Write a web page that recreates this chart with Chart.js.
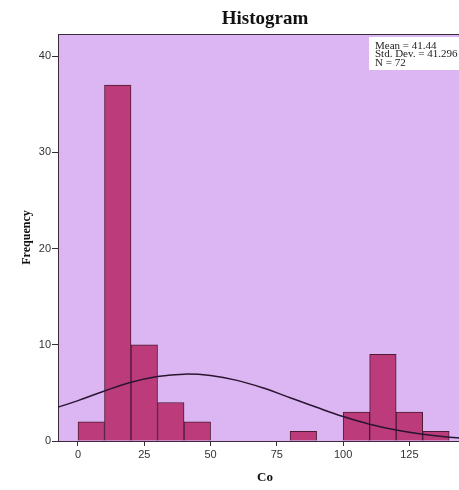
<!DOCTYPE html>
<html lang="en">
<head>
    <meta charset="UTF-8">
    <title>Histogram</title>
    <script src="https://cdn.jsdelivr.net/npm/chart.js"></script>
    <style>
        html, body { margin: 0; padding: 0; overflow: hidden; background: #fff; }
        canvas { display: block; }
    </style>
</head>
<body>
    <canvas id="histChart" width="472" height="490"></canvas>
    <script>
        // Bin midpoints (width 10) and counts
        const binCenters = [5, 15, 25, 35, 45, 85, 105, 115, 125, 135];
        const binCounts  = [2, 37, 10, 4, 2, 1, 3, 9, 3, 1];

        // Fitted normal curve, read at steps along the axis
        const curveX = [-10, 0, 10, 20, 30, 40, 50, 60, 70, 80, 90, 100, 110, 120, 130, 140, 150];
        const curveY = [3.3, 4.2, 5.2, 6.1, 6.7, 6.95, 6.8, 6.3, 5.5, 4.5, 3.5, 2.55, 1.75, 1.14, 0.7, 0.4, 0.22];

        const xTicks = [0, 25, 50, 75, 100, 125];
        const yTicks = [0, 10, 20, 30, 40];

        const statLines = ['Mean = 41.44', 'Std. Dev. = 41.296', 'N = 72'];

        const axisColor = '#3a2a3a';

        // Lavender plot background plus frame, and the stats box on top
        const plotDecor = {
            id: 'plotDecor',
            beforeDatasetsDraw(chart) {
                const {ctx, chartArea: a} = chart;
                ctx.save();
                ctx.fillStyle = '#dcb6f2';
                ctx.fillRect(a.left, a.top, a.right - a.left, a.bottom - a.top);
                ctx.strokeStyle = axisColor;
                ctx.lineWidth = 1;
                ctx.strokeRect(a.left + 0.5, a.top + 0.5, a.right - a.left, a.bottom - a.top);
                ctx.restore();
            },
            afterDraw(chart) {
                const {ctx} = chart;
                ctx.save();
                ctx.fillStyle = '#ffffff';
                ctx.fillRect(369, 37, 110, 33);
                ctx.fillStyle = '#222';
                ctx.font = '11px "Liberation Serif", serif';
                ctx.textBaseline = 'middle';
                statLines.forEach((t, i) => ctx.fillText(t, 375, 46 + i * 8.5));
                ctx.restore();
            }
        };

        const config = {
            data: {
                datasets: [{
                    type: 'line',
                    data: curveX.map((x, i) => ({x: x, y: curveY[i]})),
                    borderColor: '#2a1530',
                    borderWidth: 1.5,
                    pointRadius: 0,
                    tension: 0.4,
                    order: 1
                }, {
                    type: 'bar',
                    data: binCenters.map((x, i) => ({x: x, y: binCounts[i]})),
                    backgroundColor: '#bb3b7b',
                    borderColor: '#4d1a35',
                    borderWidth: 1,
                    barPercentage: 1,
                    categoryPercentage: 1,
                    order: 2
                }]
            },
            options: {
                responsive: false,
                animation: false,
                layout: { padding: 0 },
                plugins: {
                    legend: { display: false },
                    tooltip: { enabled: false },
                    title: {
                        display: true,
                        fullSize: false,
                        text: 'Histogram',
                        color: '#111',
                        font: { family: '"Liberation Serif", serif', size: 19, weight: 'bold' },
                        padding: { top: 8, bottom: 3.2 }
                    }
                },
                scales: {
                    x: {
                        type: 'linear',
                        min: -7.54,
                        max: 148.6,
                        offset: false,
                        afterBuildTicks: s => { s.ticks = xTicks.map(v => ({value: v})); },
                        afterFit: s => { s.height = 49; },
                        ticks: {
                            color: '#333',
                            font: { family: '"Liberation Sans", sans-serif', size: 11 },
                            padding: 2,
                            maxRotation: 0
                        },
                        grid: { offset: false, drawOnChartArea: false, tickLength: 5, color: axisColor },
                        border: { color: axisColor, width: 1 },
                        title: {
                            display: true,
                            text: 'Co',
                            color: '#111',
                            font: { family: '"Liberation Serif", serif', size: 13, weight: 'bold' },
                            padding: { top: 0, bottom: 5 }
                        }
                    },
                    y: {
                        min: 0,
                        max: 42.3,
                        afterBuildTicks: s => { s.ticks = yTicks.map(v => ({value: v})); },
                        afterFit: s => { s.width = 58; },
                        ticks: {
                            color: '#333',
                            font: { family: '"Liberation Sans", sans-serif', size: 11 },
                            padding: 1
                        },
                        grid: { drawOnChartArea: false, tickLength: 6, color: axisColor },
                        border: { color: axisColor, width: 1 },
                        title: {
                            display: true,
                            text: 'Frequency',
                            color: '#111',
                            font: { family: '"Liberation Serif", serif', size: 12, weight: 'bold' },
                            padding: { top: 20, bottom: 0 }
                        }
                    }
                }
            },
            plugins: [plotDecor]
        };

        const histChart = new Chart(document.getElementById('histChart'), config);
    </script>
</body>
</html>
